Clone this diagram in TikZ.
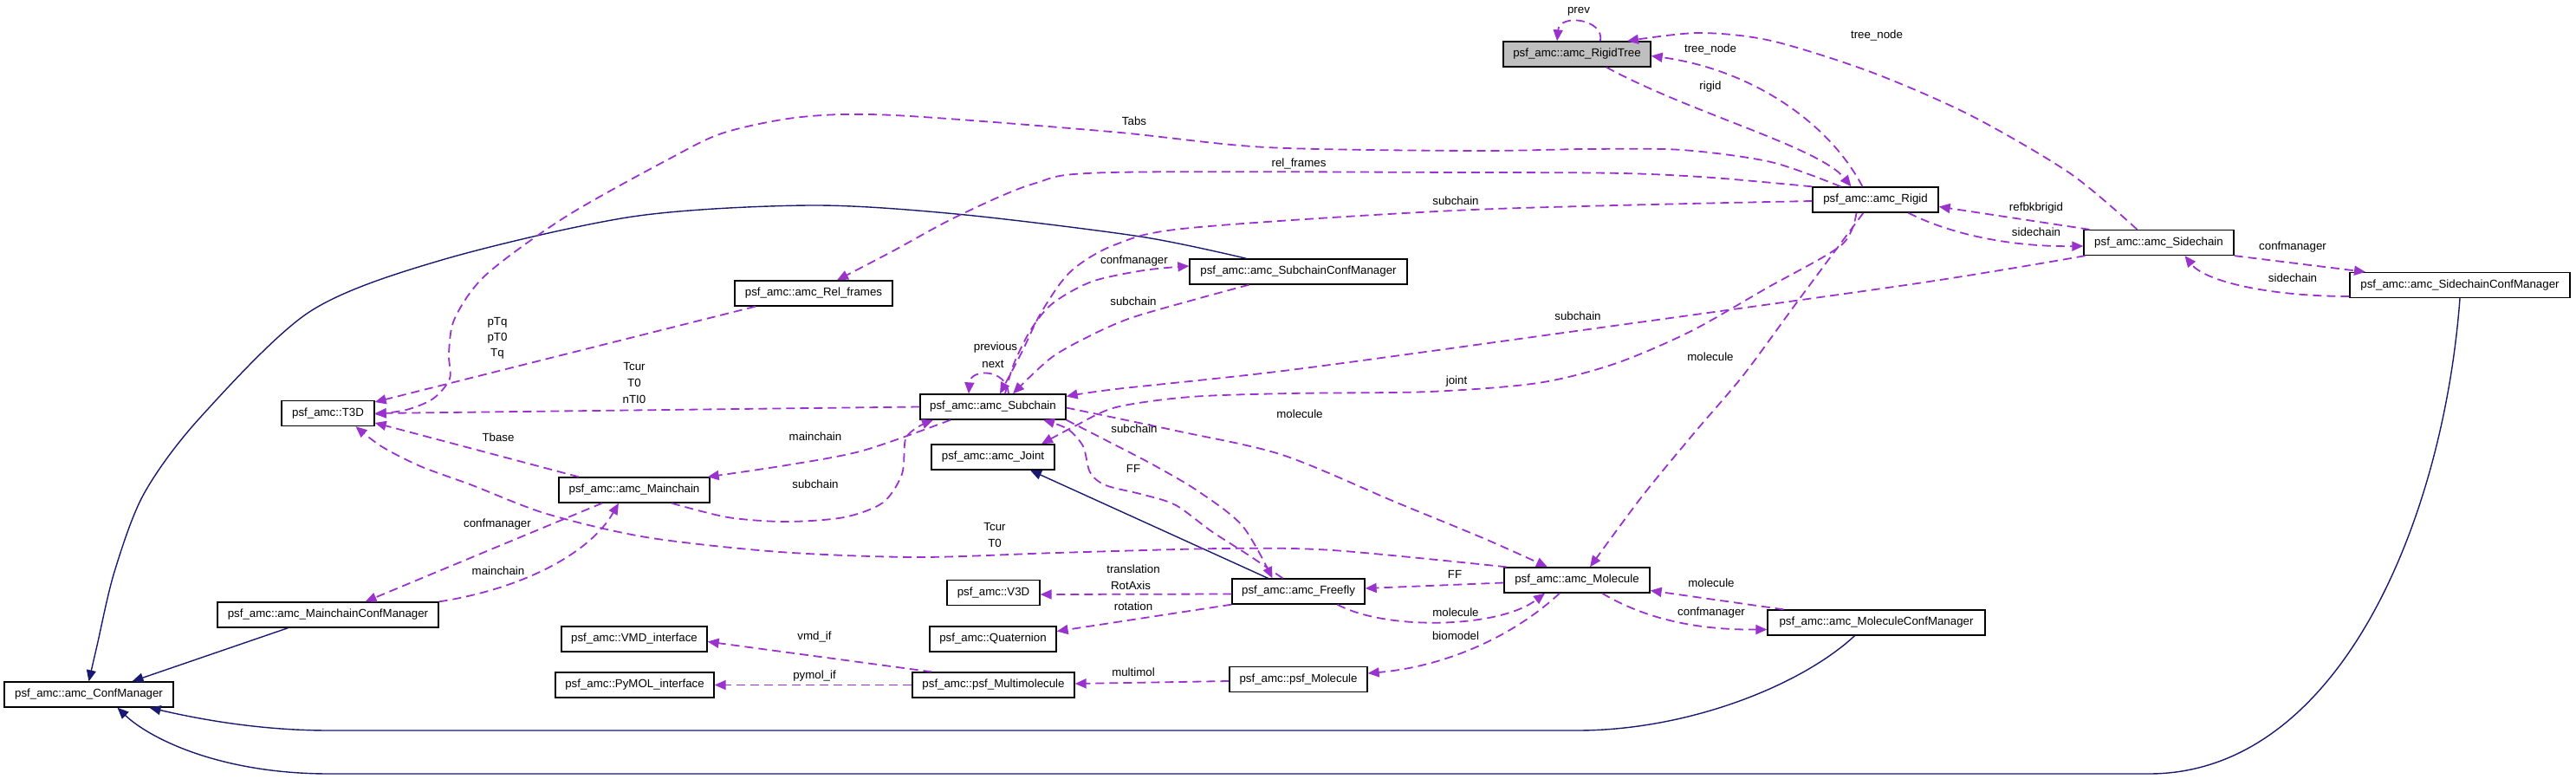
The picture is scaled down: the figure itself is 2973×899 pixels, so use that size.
\documentclass[tikz,border=0pt]{standalone}
\usepackage{fontspec}
\setmainfont{Liberation Sans}
\usetikzlibrary{arrows.meta}
\definecolor{usec}{HTML}{9A32CD}
\definecolor{inhc}{HTML}{191970}
\newcommand{\dxfont}{\fontsize{13.3}{16}\selectfont}
\begin{document}
\begin{tikzpicture}[x=1pt,y=-1pt,
 cls/.style={draw=black,line width=1.3pt,fill=white,minimum height=29pt,inner sep=0pt,font=\dxfont},
 use/.style={draw=usec,line width=1.8pt,dash pattern=on 10pt off 6pt,-{Triangle[length=13pt,width=11pt]},fill=none},
 inh/.style={draw=inhc,line width=1.4pt,-{Triangle[length=13pt,width=11pt]}},
 lbl/.style={font=\dxfont,inner sep=0pt}]
\useasboundingbox (0,0) rectangle (2973,899);
% classes
\node[cls,fill=black!25,minimum width=170pt] (rt) at (1820,62.5) {psf\_amc::amc\_RigidTree};
\node[cls,minimum width=145pt] (rigid) at (2164.5,230.5) {psf\_amc::amc\_Rigid};
\node[cls,minimum width=173pt] (sc) at (2491.5,280) {psf\_amc::amc\_Sidechain};
\node[cls,minimum width=254pt] (scm) at (2839,329) {psf\_amc::amc\_SidechainConfManager};
\node[cls,minimum width=251pt] (sccm) at (1498.5,313.5) {psf\_amc::amc\_SubchainConfManager};
\node[cls,minimum width=182pt] (rel) at (939,338.5) {psf\_amc::amc\_Rel\_frames};
\node[cls,minimum width=107pt] (t3d) at (378.5,477) {psf\_amc::T3D};
\node[cls,minimum width=168pt] (sub) at (1146,469.5) {psf\_amc::amc\_Subchain};
\node[cls,minimum width=142pt] (joint) at (1146,527.5) {psf\_amc::amc\_Joint};
\node[cls,minimum width=174pt] (main) at (732,565.5) {psf\_amc::amc\_Mainchain};
\node[cls,minimum width=255pt] (mcm) at (378.5,709.5) {psf\_amc::amc\_MainchainConfManager};
\node[cls,minimum width=195pt] (cm) at (102.5,801.5) {psf\_amc::amc\_ConfManager};
\node[cls,minimum width=168pt] (vmd) at (732,737.5) {psf\_amc::VMD\_interface};
\node[cls,minimum width=183pt] (pymol) at (732.5,790.5) {psf\_amc::PyMOL\_interface};
\node[cls,minimum width=107pt] (v3d) at (1146.5,684) {psf\_amc::V3D};
\node[cls,minimum width=146pt] (quat) at (1146,737.5) {psf\_amc::Quaternion};
\node[cls,minimum width=187pt] (mm) at (1146.5,790.5) {psf\_amc::psf\_Multimolecule};
\node[cls,minimum width=153pt] (ff) at (1498.5,682.5) {psf\_amc::amc\_Freefly};
\node[cls,minimum width=159pt] (pmol) at (1498.5,784) {psf\_amc::psf\_Molecule};
\node[cls,minimum width=168pt] (amol) at (1820,669.5) {psf\_amc::amc\_Molecule};
\node[cls,minimum width=251pt] (molcm) at (2165.5,718.5) {psf\_amc::amc\_MoleculeConfManager};
% inheritance
\draw[inh] (scm.south) .. controls (2820,600) and (2700,893) .. (2480,893) -- (380,893) .. controls (250,893) and (170,850) .. ([xshift=33pt]cm.south);
\draw[inh] ([xshift=-25pt]molcm.south) .. controls (2080,790) and (1950,843) .. (1820,843) -- (380,843) .. controls (300,843) and (230,830) .. ([xshift=70pt]cm.south);
\draw[inh] plot[smooth] coordinates {([xshift=-60pt]sccm.north) (1316,273) (1104,247) (934,237) (730,250) (510,300) (357,360) (230,483) (166,570) (132,660) (112,745) (cm.north)};
\draw[inh] ([xshift=-46pt]mcm.south) -- ([xshift=50pt]cm.north);
\draw[inh] ([xshift=-35pt]ff.north) -- ([xshift=43pt]joint.south);
% usage
\draw[use] ([xshift=27pt]rt.north) .. controls (1852,22) and (1800,15) .. ([xshift=-23pt]rt.north);
\draw[use] ([xshift=34pt]rt.south) .. controls (1950,130) and (2100,170) .. ([xshift=-28pt]rigid.north);
\draw[use] ([xshift=-15pt]rigid.north) .. controls (2110,140) and (2020,80) .. ([yshift=-2pt]rt.east);
\draw[use] plot[smooth] coordinates {([xshift=-25pt]sc.north) (2389,200) (2274,133) (2159,83) (2044,47) (1960,38) ([xshift=58pt]rt.north)};
\draw[use] ([xshift=-80pt]sc.north) -- ([yshift=-8pt]rigid.east);
\draw[use] ([xshift=38pt]rigid.south) .. controls (2250,270) and (2320,285) .. ([yshift=-4pt]sc.west);
\draw[use] (sc.south east) -- ([xshift=-109pt]scm.north);
\draw[use] ([yshift=-13pt]scm.west) .. controls (2620,342) and (2545,325) .. ([xshift=30pt]sc.south);
\draw[use] plot[smooth] coordinates {([xshift=-40pt]rigid.north) (2044,187) (1941,173) (1832,172) (1700,174) (1461,170) (1282,152) (1032,133) (925,135) (836,153) (773,183) (653,250) (561,317) (525,367) (518,407) (519,437) (500,460) (469,473) ([yshift=-1pt]t3d.east)};
\draw[use] plot[smooth] coordinates {(rigid.north west) (1976,205) (1872,200) (1700,199) (1282,199) (1193,212) (1104,250) (1030,290) ([xshift=27pt]rel.north)};
\draw[use] ([xshift=-67pt]rel.south) -- ([yshift=13pt]t3d.east);
\draw[use] (sub.west) -- (t3d.east);
\draw[use] ([xshift=-64pt]main.north) -- ([yshift=-11pt]t3d.east);
\draw[use] plot[smooth] coordinates {([xshift=-81pt]amol.north) (1538,635) (1410,633) (1219,638) (1059,643) (900,637) (746,620) (631,593) (545,560) (485,538) (440,515) ([xshift=32pt]t3d.south)};
\draw[use] plot[smooth] coordinates {([yshift=-1.5pt]rigid.west) (1700,242) (1374,263) (1288,282) (1236,313) (1202,360) (1179,407) ([xshift=8pt]sub.north)};
\draw[use] plot[smooth] coordinates {([xshift=-57pt]sccm.south) (1374,347) (1305,367) (1259,387) (1213,413) ([xshift=23pt]sub.north)};
\draw[use] plot[smooth] coordinates {([xshift=14pt]sub.north) (1170,420) (1190,380) (1215,350) (1260,325) (1320,312) ([yshift=6.5pt]sccm.west)};
\draw[use] ([xshift=18pt]sub.north) .. controls (1162,425) and (1120,425) .. ([xshift=-28pt]sub.north);
\draw[use] plot[smooth] coordinates {([xshift=-85pt]sc.south) (2213,327) (1819,382) (1489,427) (1288,449) ([yshift=12pt]sub.east)};
\draw[use] plot[smooth] coordinates {([xshift=-22pt]rigid.south) (2125,283) (2038,333) (1950,383) (1863,420) (1775,442) (1650,452) (1489,454) (1374,458) (1288,470) (1240,492) ([xshift=56pt]joint.north)};
\draw[use] plot[smooth] coordinates {([xshift=-14pt]rigid.south) (2073,350) (2012,433) (1955,500) (1895,573) ([xshift=15pt]amol.north)};
\draw[use] plot[smooth] coordinates {([yshift=-1pt]sub.east) (1357,497) (1480,525) (1612,580) (1714,622) ([xshift=-34pt]amol.north)};
\draw[use] plot[smooth] coordinates {(sub.south east) (1286,513) (1332,537) (1383,567) (1434,607) ([xshift=-30pt]ff.north)};
\draw[use] plot[smooth] coordinates {([xshift=-18pt]ff.north) (1440,640) (1398,613) (1357,583) (1320,571) (1276,560) (1258,545) (1250,515) (1232,495) ([xshift=58pt]sub.south)};
\draw[use] plot[smooth] coordinates {([xshift=-49pt]sub.south) (996,520) (907,537) ([xshift=-3pt]main.north east)};
\draw[use] plot[smooth] coordinates {([xshift=43pt]main.south) (840,597) (907,602) (974,597) (1019,580) (1041,547) (1045,507) (1059,493) ([xshift=-69pt]sub.south)};
\draw[use] ([xshift=-37pt]main.south) -- ([xshift=43pt]mcm.north);
\draw[use] (mcm.north east) .. controls (600,680) and (680,640) .. ([xshift=-18pt]main.south);
\draw[use] ([yshift=-3pt]ff.west) -- ([yshift=-2pt]v3d.east);
\draw[use] (ff.south west) -- ([yshift=9pt]quat.east);
\draw[use] ([yshift=-3pt]amol.west) -- ([yshift=3.5pt]ff.east);
\draw[use] ([xshift=45pt]ff.south) .. controls (1600,728) and (1730,725) .. ([xshift=-37pt]amol.south);
\draw[use] ([xshift=-20pt]amol.south) .. controls (1740,740) and (1660,770) .. ([yshift=7pt]pmol.east);
\draw[use] ([yshift=-2pt]pmol.west) -- ([yshift=1.5pt]mm.east);
\draw[use] ([xshift=-71pt]mm.north) -- ([yshift=-3pt]vmd.east);
\draw[use] (mm.west) -- (pymol.east);
\draw[use] ([xshift=29pt]amol.south) .. controls (1900,715) and (1960,727) .. ([yshift=-8pt]molcm.west);
\draw[use] ([xshift=-107pt]molcm.north) -- ([yshift=-12pt]amol.east);
% labels
\node[lbl] (l1) at (1822,13) {prev};
\node[lbl] (l2) at (1974,100) {rigid};
\node[lbl] (l3) at (1974,57) {tree\_node};
\node[lbl] (l4) at (2166,41) {tree\_node};
\node[lbl] (l5) at (2350,240) {refbkbrigid};
\node[lbl] (l6) at (2350,268) {sidechain};
\node[lbl] (l7) at (2646,285) {confmanager};
\node[lbl] (l8) at (2646,321) {sidechain};
\node[lbl] (l9) at (1309,140) {Tabs};
\node[lbl] (l10) at (1499,189) {rel\_frames};
\node[lbl] (l11) at (1680,232) {subchain};
\node[lbl] (l12) at (1309,301) {confmanager};
\node[lbl] (l13) at (1308,348) {subchain};
\node[lbl] (l14) at (1149,401) {previous};
\node[lbl] (l15) at (1146,420) {next};
\node[lbl] (l16) at (1821,365) {subchain};
\node[lbl] (l17) at (1681,440) {joint};
\node[lbl] (l18) at (1974,412) {molecule};
\node[lbl] (l19) at (1500,478) {molecule};
\node[lbl] (l20) at (1309,495) {subchain};
\node[lbl] (l21) at (1308,541) {FF};
\node[lbl] (l22) at (574,372) {pTq};
\node[lbl] (l23) at (574,390) {pT0};
\node[lbl] (l24) at (574,408) {Tq};
\node[lbl] (l25) at (732,423) {Tcur};
\node[lbl] (l26) at (732,442) {T0};
\node[lbl] (l27) at (732,461) {nTI0};
\node[lbl] (l28) at (575,505) {Tbase};
\node[lbl] (l29) at (941,504) {mainchain};
\node[lbl] (l30) at (941,559) {subchain};
\node[lbl] (l31) at (574,605) {confmanager};
\node[lbl] (l32) at (575,659) {mainchain};
\node[lbl] (l33) at (1148,608) {Tcur};
\node[lbl] (l34) at (1148,627) {T0};
\node[lbl] (l35) at (1308,657) {translation};
\node[lbl] (l36) at (1305,676) {RotAxis};
\node[lbl] (l37) at (1308,700) {rotation};
\node[lbl] (l38) at (1679,663) {FF};
\node[lbl] (l39) at (1680,707) {molecule};
\node[lbl] (l40) at (1680,734) {biomodel};
\node[lbl] (l41) at (1308,776) {multimol};
\node[lbl] (l42) at (940,735) {vmd\_if};
\node[lbl] (l43) at (940,780) {pymol\_if};
\node[lbl] (l44) at (1975,673) {molecule};
\node[lbl] (l45) at (1975,707) {confmanager};
\end{tikzpicture}
\end{document}
